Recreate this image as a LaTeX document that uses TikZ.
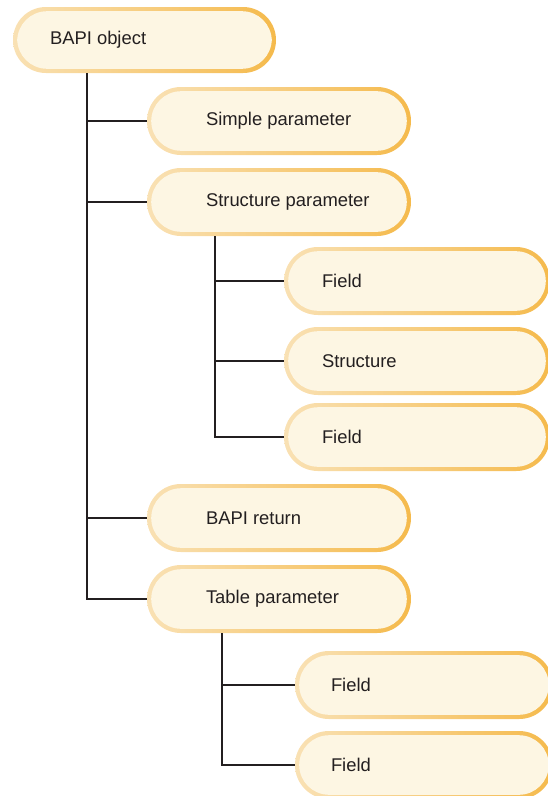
\documentclass[tikz,border=0pt]{standalone}
\usepackage{fontspec}
\setmainfont{Liberation Sans}
\usetikzlibrary{calc}

\definecolor{ink}{RGB}{35,31,32}
\definecolor{cream}{RGB}{253,246,227}
\definecolor{rimpale}{RGB}{249,225,180}
\definecolor{rimdeep}{RGB}{245,186,76}

% left-aligned label inside a fixed-width box, so the text starts at a set indent
\newcommand\indented[2]{\makebox[#1][l]{#2}}

\tikzset{
  pill/.style={rectangle, rounded corners=33.9pt, minimum height=68pt,
    inner sep=0pt, outer sep=0pt, draw=none,
    left color=rimpale, right color=rimdeep,
    text=ink, font=\fontsize{18.4}{22}\selectfont,
    path picture={\fill[cream, rounded corners=29.9pt]
      ([shift={(4.2pt,4.2pt)}]path picture bounding box.south west) rectangle
      ([shift={(-4.2pt,-4.2pt)}]path picture bounding box.north east);}},
  link/.style={draw=ink, line width=2pt}
}

\begin{document}
\begin{tikzpicture}[x=1pt, y=-1pt]
  \useasboundingbox (0,0) rectangle (547,796);

  % top-level object
  \node[pill, minimum width=263pt, minimum height=66pt, rounded corners=32.9pt]
    (obj) at (144.5,40) {\indented{189pt}{BAPI object}};

  % parameters
  \node[pill, minimum width=264pt] (simple) at (279,121) {\indented{146pt}{Simple parameter}};
  \node[pill, minimum width=264pt] (struct) at (279,202) {\indented{146pt}{Structure parameter}};
  \node[pill, minimum width=264pt] (ret)    at (279,518) {\indented{146pt}{BAPI return}};
  \node[pill, minimum width=264pt] (table)  at (279,599) {\indented{146pt}{Table parameter}};

  % members of the structure parameter
  \node[pill, minimum width=266pt] (sfield1) at (417,281) {\indented{190pt}{Field}};
  \node[pill, minimum width=266pt] (sstruct) at (417,361) {\indented{190pt}{Structure}};
  \node[pill, minimum width=266pt] (sfield2) at (417,437) {\indented{190pt}{Field}};

  % members of the table parameter
  \node[pill, minimum width=258pt] (tfield1) at (424,685) {\indented{186pt}{Field}};
  \node[pill, minimum width=258pt] (tfield2) at (424,765) {\indented{186pt}{Field}};

  % x positions of the three trunks
  \coordinate (trunkA) at (87,0);
  \coordinate (trunkB) at (215,0);
  \coordinate (trunkC) at (222,0);

  % object -> parameters
  \draw[link] (obj.south -| trunkA) |- (table.west);
  \foreach \n in {simple,struct,ret}
    \draw[link] (trunkA |- \n.west) -- (\n.west);

  % structure parameter -> members
  \draw[link] (struct.south -| trunkB) |- (sfield2.west);
  \foreach \n in {sfield1,sstruct}
    \draw[link] (trunkB |- \n.west) -- (\n.west);

  % table parameter -> fields
  \draw[link] (table.south -| trunkC) |- (tfield2.west);
  \draw[link] (trunkC |- tfield1.west) -- (tfield1.west);
\end{tikzpicture}
\end{document}
